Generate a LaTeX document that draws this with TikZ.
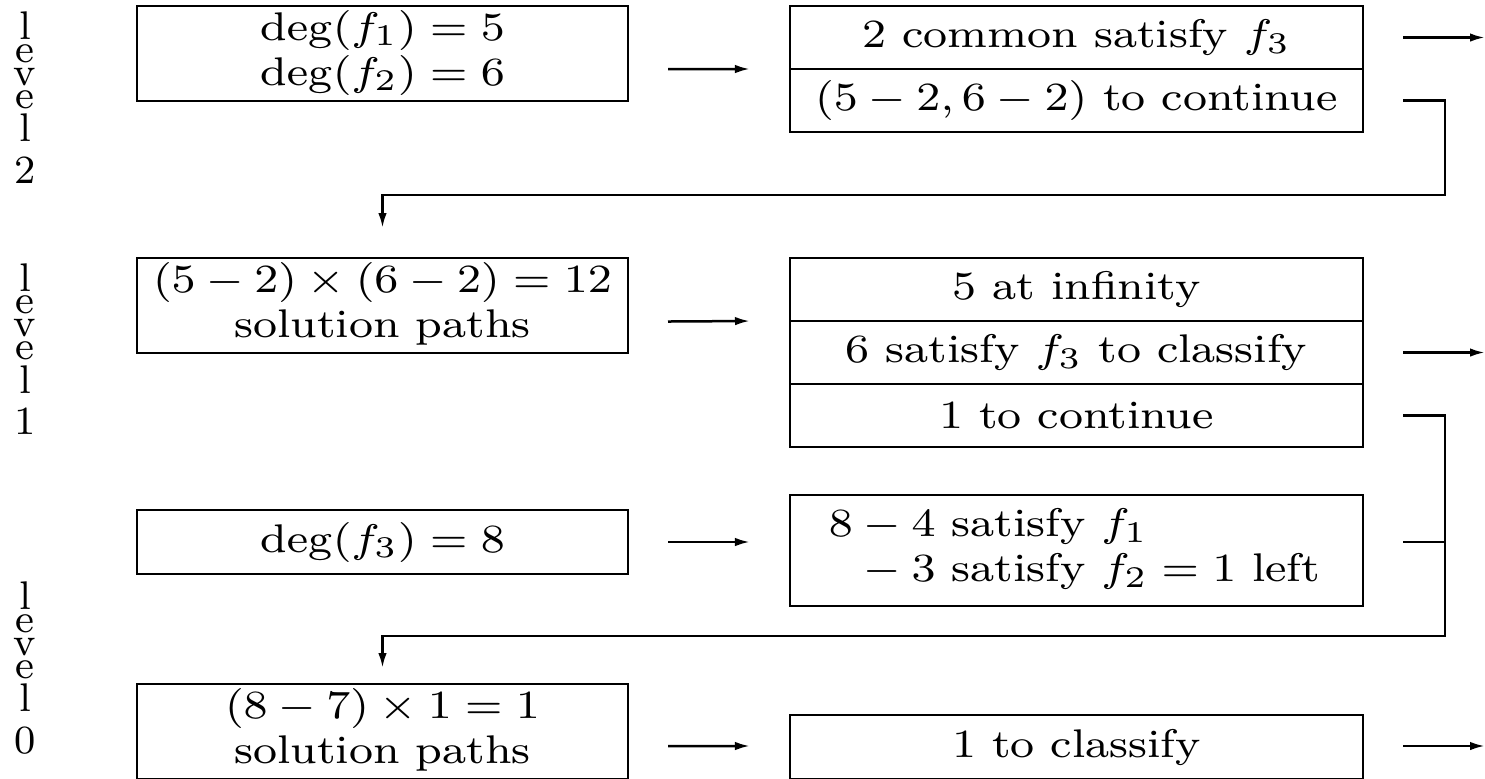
\documentclass[tikz,border=0pt]{standalone}
\usepackage{graphicx}
\usetikzlibrary{arrows.meta,calc}
\newcommand{\sx}[1]{\scalebox{1.13}[1]{#1}}
\newcommand{\lvlstack}[1]{\vbox{\offinterlineskip\halign{\hfil##\hfil\cr l\cr\noalign{\vskip1pt}e\cr\noalign{\vskip1pt}v\cr\noalign{\vskip1pt}e\cr\noalign{\vskip1pt}l\cr\noalign{\vskip3pt}#1\cr}}}
\begin{document}
\begin{tikzpicture}[x=0.2pt,y=-0.2pt,
  box/.style={draw, line width=0.55pt, rectangle, inner sep=0pt, outer sep=0pt, font=\fontsize{8}{9}\selectfont},
  lbox/.style={box, minimum width=98.2pt},
  rbox/.style={box, minimum width=114.6pt},
  txt/.style={inner sep=0pt, font=\fontsize{8}{9}\selectfont},
  lvl/.style={inner sep=0pt, font=\fontsize{8}{9}\selectfont},
  arr/.style={line width=0.5pt, -{Latex[length=3pt,width=1.7pt]}},
  ln/.style={line width=0.5pt}]
\useasboundingbox (0,0) rectangle (1485,778);
\clip (0,0) rectangle (1485,778);
% level labels
\node[lvl] (L2) at (25,97.5) {\lvlstack{2}};
\node[lvl] (L1) at (25,349) {\lvlstack{1}};
\node[lvl] (L0) at (25,668) {\lvlstack{0}};
% left column
\node[lbox, minimum height=19pt] (A) at (382.5,53.5) {\sx{\begin{tabular}{@{}c@{}}$\deg(f_1) = 5$\\$\deg(f_2) = 6$\end{tabular}}};
\node[lbox, minimum height=19pt] (B) at (382.5,305.5) {\sx{\begin{tabular}{@{}c@{}}$(5-2)\times(6-2) = 12$\\solution paths\end{tabular}}};
\node[lbox, minimum height=12.8pt] (C) at (382.5,542) {\sx{$\deg(f_3) = 8$}};
\node[lbox, minimum height=19pt] (D) at (382.5,731.5) {\sx{\begin{tabular}{@{}c@{}}$(8-7)\times 1 = 1$\\solution paths\end{tabular}}};
% right column
\node[rbox, minimum height=12.6pt] (E1) at (1076.5,37.5) {\sx{2 common satisfy $f_3$}};
\node[rbox, minimum height=12.6pt] (E2) at (1076.5,100.5) {\sx{$(5-2, 6-2)$ to continue}};
\node[rbox, minimum height=12.6pt] (F1) at (1076.5,289.5) {\sx{5 at infinity}};
\node[rbox, minimum height=12.6pt] (F2) at (1076.5,352.5) {\sx{6 satisfy $f_3$ to classify}};
\node[rbox, minimum height=12.6pt] (F3) at (1076.5,415.5) {\sx{1 to continue}};
\node[rbox, minimum height=22.2pt] (G) at (1076.5,550.5) {};
\node[txt, anchor=west] (Gt) at (828,550) {\sx{\begin{tabular}{@{}l@{}}$8 - 4$ satisfy $f_1$\\$\phantom{8} - 3$ satisfy $f_2 = 1$ left\end{tabular}}};
\node[rbox, minimum height=12.8pt] (H) at (1076.5,747) {\sx{1 to classify}};
% arrows between columns
\draw[arr] ($(A.east)+(40,15.5)$) -- ($(E2.north west)+(-40,0)$);
\draw[arr] ($(B.east)+(40,16)$) -- ($(F2.north west)+(-40,0)$);
\draw[arr] ($(C.east)+(40,0)$) -- ($(G.west)+(-40,-8.5)$);
\draw[arr] ($(D.east)+(40,14.5)$) -- ($(H.west)+(-40,-1)$);
% outgoing arrows
\draw[arr] ($(E1.east)+(40,0)$) -- ++(82,0);
\draw[arr] ($(F2.east)+(40,0)$) -- ++(82,0);
\draw[arr] ($(H.east)+(40,-1)$) -- ++(82,0);
% feedback lines
\draw[arr] ($(E2.east)+(40,0)$) -- ++(42,0) |- ($(B.north)+(0,-63)$) -- ($(B.north)+(0,-30)$);
\draw[arr] ($(F3.east)+(40,0)$) -- ++(42,0) |- ($(D.north)+(0,-48)$) -- ($(D.north)+(0,-16)$);
\draw[ln] ($(G.east)+(40,-8.5)$) -- ++(42,0);
\end{tikzpicture}
\end{document}
